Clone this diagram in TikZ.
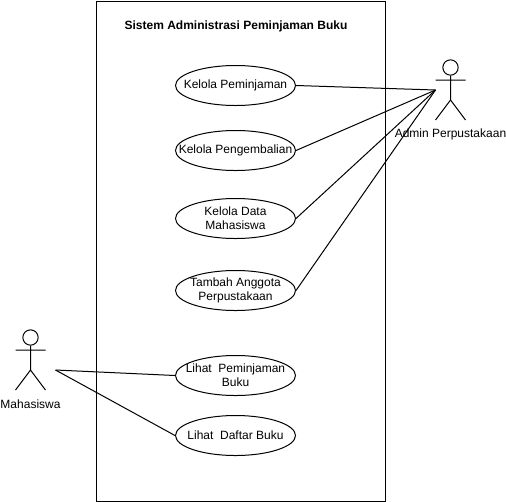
\documentclass[tikz,border=0pt]{standalone}
\usepackage{fontspec}
\setmainfont{Liberation Sans}
\usetikzlibrary{shapes.geometric}
\tikzset{
  uc/.style={draw,ellipse,minimum width=90pt,minimum height=30pt,inner sep=0pt,
    label={[align=center,inner sep=0pt,font=\fontsize{9}{10.5}\selectfont]center:#1}},
  lbl/.style={font=\fontsize{9}{10.5}\selectfont,inner sep=0pt},
  head/.style={draw,circle,minimum size=11.5pt,inner sep=0pt}
}
\begin{document}
\begin{tikzpicture}[x=0.75pt,y=-0.75pt,line width=0.75pt]
\useasboundingbox (0,0) rectangle (506,501);
\node[draw,minimum width=216.75pt,minimum height=375pt,anchor=north west,inner sep=0pt] (sys) at (96,0.5) {};
\node[font=\bfseries\fontsize{9}{10.5}\selectfont,inner sep=0pt] (title) at (236,26.5) {Sistem Administrasi Peminjaman Buku};
\node[uc={Kelola Peminjaman}] (a) at (235.5,85.5) {};
\node[uc={Kelola Pengembalian}] (b) at (235.5,150.5) {};
\node[uc={Kelola Data\\Mahasiswa}] (c) at (235.5,218.5) {};
\node[uc={Tambah Anggota\\Perpustakaan}] (d) at (235.5,290.5) {};
\node[uc={Lihat~ Peminjaman\\Buku}] (e) at (235.5,375.5) {};
\node[uc={Lihat~ Daftar Buku}] (f) at (235.5,435.5) {};
% admin actor
\node[head] (ah) at (450.5,67.5) {};
\coordinate (aw) at (450.5,100);
\coordinate (al) at (435.5,80);
\coordinate (ar) at (465.5,80);
\coordinate (afl) at (435.5,120);
\coordinate (afr) at (465.5,120);
\draw (ah.south) -- (aw) -- (afl) (aw) -- (afr) (al) -- (ar);
\node[lbl] (alabel) at (450.5,134) {Admin Perpustakaan};
% student actor
\node[head] (mh) at (30.5,337.5) {};
\coordinate (mw) at (30.5,370);
\coordinate (ml) at (15.5,350);
\coordinate (mr) at (45.5,350);
\coordinate (mfl) at (15.5,390);
\coordinate (mfr) at (45.5,390);
\draw (mh.south) -- (mw) -- (mfl) (mw) -- (mfr) (ml) -- (mr);
\node[lbl] (mlabel) at (30.5,404) {Mahasiswa};
\coordinate (at) at (435.5,90);
\coordinate (mt) at (55.5,370);
\draw (a.east) -- (at);
\draw (b.east) -- (at);
\draw (c.east) -- (at);
\draw (d.east) -- (at);
\draw (mt) -- (e.west);
\draw (mt) -- (f.west);
\end{tikzpicture}
\end{document}
